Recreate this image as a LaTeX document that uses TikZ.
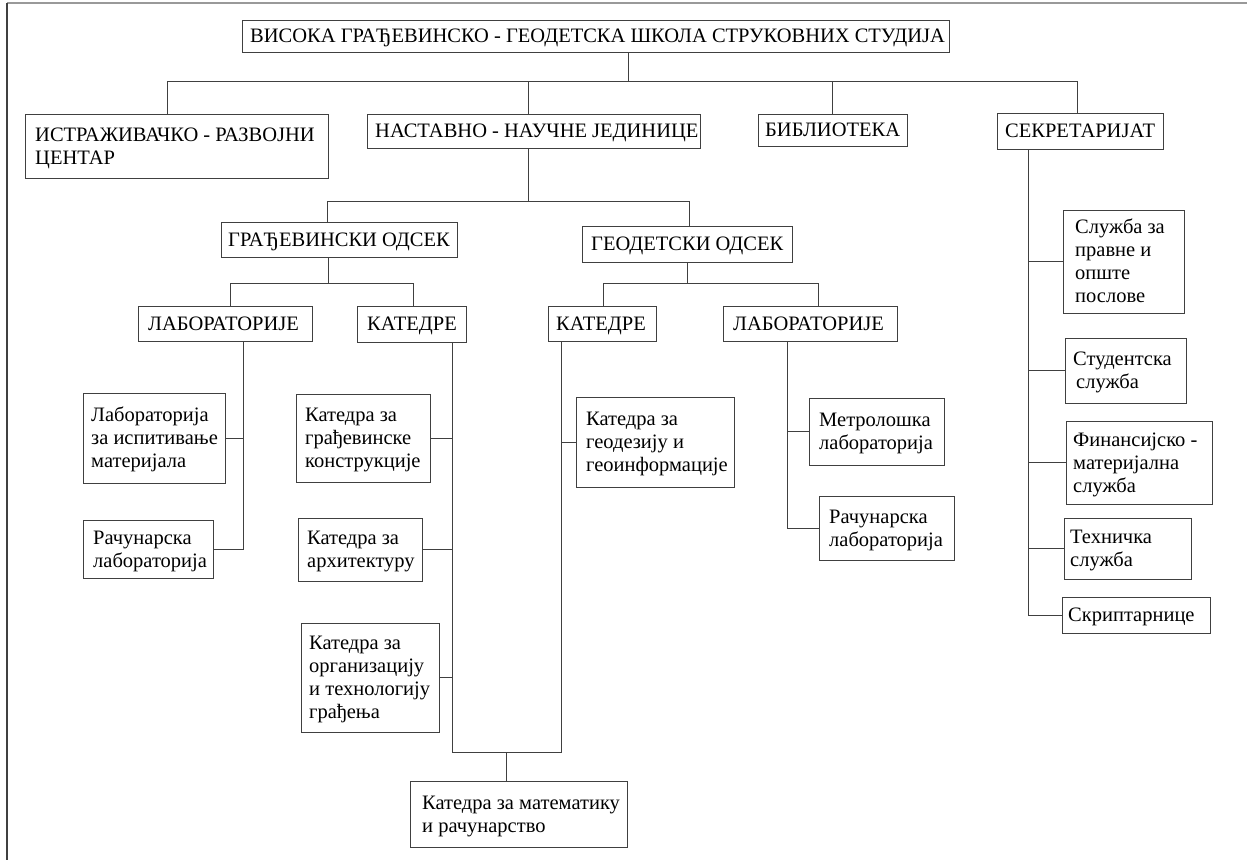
\documentclass[tikz,border=0pt]{standalone}
\usepackage{fontspec}
\setmainfont{Liberation Serif}
\tikzset{
  x=1pt, y=-1pt,
  boxst/.style={draw=black!75, line width=1pt, inner sep=0pt, fill=white},
  txt/.style={inner sep=0pt, font=\fontsize{20.5}{23}\selectfont},
  conn/.style={draw=black!75, line width=1pt},
}
% name x1 y1 x2 y2 pad nlines text
\newcommand\obox[8]{%
  \node[boxst, minimum width={(#4-#2)*1pt}, minimum height={(#5-#3)*1pt}] (#1) at ({(#2+#4)/2},{(#3+#5)/2}) {};
  \node[txt, anchor=base west] (#1t) at ({#2+#6},{(#3+#5)/2-(#7-1)*11.5+6.8}) {\begin{tabular}[t]{@{}l@{}}#8\end{tabular}};
}
\begin{document}
\begin{tikzpicture}
\useasboundingbox (0,0) rectangle (1247,860);
% page frame
\coordinate (fa) at (7,3);
\coordinate (fb) at (1247,3);
\coordinate (fc) at (7,860);
\draw[draw=black!40, line width=1.5pt] (fa) -- (fb);
\draw[draw=black!75, line width=1.5pt] (fa) -- (fc);

% boxes
\obox{title}{242}{20}{949}{52}{8}{1}{ВИСОКА ГРАЂЕВИНСКО - ГЕОДЕТСКА ШКОЛА СТРУКОВНИХ СТУДИЈА}
\obox{irc}{25}{114}{328}{178}{10}{2}{ИСТРАЖИВАЧКО - РАЗВОЈНИ\\ЦЕНТАР}
\obox{nnj}{367}{114}{700}{148}{8}{1}{НАСТАВНО - НАУЧНЕ ЈЕДИНИЦЕ}
\obox{lib}{758}{114}{907}{146}{7}{1}{БИБЛИОТЕКА}
\obox{sec}{997}{113}{1163}{149}{8}{1}{СЕКРЕТАРИЈАТ}
\obox{gro}{221}{222}{457}{257}{7}{1}{ГРАЂЕВИНСКИ ОДСЕК}
\obox{geo}{582}{226}{792}{262}{9}{1}{ГЕОДЕТСКИ ОДСЕК}
\obox{glab}{138}{306}{312}{341}{10}{1}{ЛАБОРАТОРИЈЕ}
\obox{gkat}{357}{306}{466}{342}{10}{1}{КАТЕДРЕ}
\obox{geokat}{548}{306}{656}{341}{8}{1}{КАТЕДРЕ}
\obox{geolab}{723}{306}{897}{341}{10}{1}{ЛАБОРАТОРИЈЕ}

\obox{glab1}{83}{393}{225}{483}{8}{3}{Лабораторија\\за испитивање\\материјала}
\obox{glab2}{83}{520}{213}{578}{10}{2}{Рачунарска\\лабораторија}
\obox{kat1}{296}{394}{430}{482}{9}{3}{Катедра за\\грађевинске\\конструкције}
\obox{kat2}{298}{518}{422}{581}{9}{2}{Катедра за\\архитектуру}
\obox{kat3}{301}{623}{439}{732}{8}{4}{Катедра за\\организацију\\и технологију\\грађења}
\obox{math}{410}{781}{627}{847}{12}{2}{Катедра за математику\\и рачунарство}
\obox{geokat1}{576}{397}{734}{487}{10}{3}{Катедра за\\геодезију и\\геоинформације}
\obox{geolab1}{809}{398}{944}{465}{10}{2}{Метролошка\\лабораторија}
\obox{geolab2}{819}{496}{954}{560}{10}{2}{Рачунарска\\лабораторија}
\obox{s1}{1063}{210}{1184}{313}{12}{4}{Служба за\\правне и\\опште\\послове}
\obox{s2}{1065}{338}{1186}{403}{8}{2}{Студентска\\\hspace{3pt}служба}
\obox{s3}{1066}{421}{1212}{504}{7}{3}{Финансијско -\\материјална\\служба}
\obox{s4}{1064}{518}{1191}{579}{6}{2}{Техничка\\служба}
\obox{s5}{1062}{597}{1210}{633}{6}{1}{Скриптарнице}

% junction coordinates
\coordinate (c1) at (628,81);
\coordinate (c1L) at (167,81);
\coordinate (c1b) at (528,81);
\coordinate (c1c) at (832,81);
\coordinate (c1R) at (1077,81);
\coordinate (c2) at (528,201);
\coordinate (c2L) at (327,201);
\coordinate (c2R) at (689,201);
\coordinate (c3) at (328,283);
\coordinate (c3L) at (230,283);
\coordinate (c3R) at (413,283);
\coordinate (c4) at (687,283);
\coordinate (c4L) at (603,283);
\coordinate (c4R) at (818,283);
\coordinate (c5) at (243,549);
\coordinate (c6) at (452,752);
\coordinate (c6M) at (506,752);
\coordinate (c6R) at (561,752);
\coordinate (c7) at (787,528);
\coordinate (c8) at (1028,615);

% connectors
\draw[conn] (title.south -| c1) -- (c1);
\draw[conn] (c1L) -- (c1R);
\draw[conn] (c1L) -- (irc.north -| c1L);
\draw[conn] (c1b) -- (nnj.north -| c1b);
\draw[conn] (c1c) -- (lib.north -| c1c);
\draw[conn] (c1R) -- (sec.north -| c1R);

\draw[conn] (nnj.south -| c2) -- (c2);
\draw[conn] (c2L) -- (c2R);
\draw[conn] (c2L) -- (gro.north -| c2L);
\draw[conn] (c2R) -- (geo.north -| c2R);

\draw[conn] (gro.south -| c3) -- (c3);
\draw[conn] (c3L) -- (c3R);
\draw[conn] (c3L) -- (glab.north -| c3L);
\draw[conn] (c3R) -- (gkat.north -| c3R);

\draw[conn] (geo.south -| c4) -- (c4);
\draw[conn] (c4L) -- (c4R);
\draw[conn] (c4L) -- (geokat.north -| c4L);
\draw[conn] (c4R) -- (geolab.north -| c4R);

\draw[conn] (glab.south -| c5) -- (c5) -- (glab2.east |- c5);
\draw[conn] (glab1.east) -- (glab1.east -| c5);

\draw[conn] (gkat.south -| c6) -- (c6) -- (c6R) -- (geokat.south -| c6R);
\draw[conn] (kat1.east) -- (kat1.east -| c6);
\draw[conn] (kat2.east) -- (kat2.east -| c6);
\draw[conn] (kat3.east) -- (kat3.east -| c6);
\draw[conn] (c6M) -- (math.north -| c6M);
\draw[conn] (geokat1.west) -- (geokat1.west -| c6R);

\draw[conn] (geolab.south -| c7) -- (c7) -- (geolab2.west |- c7);
\draw[conn] (geolab1.west) -- (geolab1.west -| c7);

\draw[conn] (sec.south -| c8) -- (c8) -- (s5.west |- c8);
\draw[conn] (s1.west) -- (s1.west -| c8);
\draw[conn] (s2.west) -- (s2.west -| c8);
\draw[conn] (s3.west) -- (s3.west -| c8);
\draw[conn] (s4.west) -- (s4.west -| c8);
\end{tikzpicture}
\end{document}
